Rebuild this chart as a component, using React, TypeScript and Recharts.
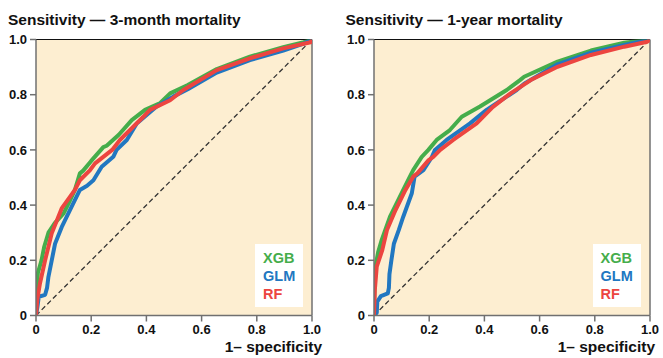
import React from "react";
import {
  CartesianGrid,
  Line,
  LineChart,
  ReferenceLine,
  XAxis,
  YAxis,
} from "recharts";

// ROC points as [1 - specificity, sensitivity]
const XGB_3M = [
  [0, 0], [0.003, 0.1], [0.007, 0.155], [0.02, 0.2], [0.03, 0.25], [0.045, 0.3],
  [0.068, 0.335], [0.1, 0.37], [0.12, 0.41], [0.141, 0.455], [0.159, 0.515],
  [0.171, 0.525], [0.2, 0.56], [0.244, 0.61], [0.256, 0.615], [0.3, 0.655],
  [0.347, 0.708], [0.395, 0.745], [0.45, 0.77], [0.486, 0.805], [0.55, 0.835],
  [0.655, 0.893], [0.775, 0.938], [0.896, 0.972], [0.97, 0.99], [1, 1],
];
const GLM_3M = [
  [0, 0], [0.005, 0.03], [0.01, 0.068], [0.033, 0.075], [0.04, 0.1], [0.045, 0.14],
  [0.057, 0.2], [0.069, 0.26], [0.093, 0.32], [0.123, 0.382], [0.159, 0.455],
  [0.185, 0.47], [0.208, 0.49], [0.238, 0.539], [0.28, 0.575], [0.292, 0.6],
  [0.329, 0.636], [0.365, 0.696], [0.437, 0.757], [0.497, 0.793], [0.55, 0.82],
  [0.655, 0.88], [0.775, 0.925], [0.896, 0.96], [0.97, 0.985], [1, 1],
];
const RF_3M = [
  [0, 0], [0.005, 0.06], [0.0145, 0.117], [0.033, 0.2], [0.057, 0.298],
  [0.093, 0.388], [0.141, 0.455], [0.159, 0.49], [0.196, 0.527], [0.214, 0.551],
  [0.276, 0.6], [0.304, 0.636], [0.389, 0.72], [0.413, 0.745], [0.486, 0.78],
  [0.534, 0.817], [0.655, 0.889], [0.775, 0.932], [0.896, 0.968], [0.995, 0.99],
  [1, 1],
];

const XGB_1Y = [
  [0, 0], [0.003, 0.165], [0.015, 0.23], [0.028, 0.274], [0.058, 0.358],
  [0.106, 0.455], [0.13, 0.503], [0.142, 0.527], [0.173, 0.575], [0.197, 0.6],
  [0.227, 0.636], [0.275, 0.672], [0.318, 0.72], [0.384, 0.757], [0.481, 0.817],
  [0.529, 0.853], [0.544, 0.865], [0.665, 0.92], [0.786, 0.96], [0.907, 0.988],
  [1, 1],
];
const GLM_1Y = [
  [0, 0], [0.01, 0.01], [0.012, 0.05], [0.025, 0.07], [0.05, 0.08], [0.054, 0.1],
  [0.056, 0.15], [0.063, 0.2], [0.072, 0.26], [0.09, 0.31], [0.106, 0.358],
  [0.137, 0.443], [0.147, 0.503], [0.179, 0.527], [0.21, 0.575], [0.221, 0.6],
  [0.263, 0.636], [0.348, 0.696], [0.408, 0.745], [0.517, 0.817], [0.544, 0.84],
  [0.665, 0.91], [0.786, 0.952], [0.907, 0.98], [1, 1],
];
const RF_1Y = [
  [0, 0], [0.003, 0.092], [0.01, 0.177], [0.03, 0.237], [0.047, 0.31],
  [0.078, 0.382], [0.114, 0.455], [0.142, 0.503], [0.157, 0.515], [0.198, 0.563],
  [0.215, 0.575], [0.24, 0.6], [0.287, 0.636], [0.372, 0.696], [0.43, 0.755],
  [0.495, 0.805], [0.568, 0.853], [0.665, 0.901], [0.786, 0.944], [0.907, 0.974],
  [0.99, 0.992], [1, 1],
];

const MODELS = ["XGB", "GLM", "RF"];
const COLORS = ["#45ad4b", "#2177c1", "#ec4540"];
const TICKS = [0, 0.2, 0.4, 0.6, 0.8, 1];

const FONT = '"Liberation Sans", Arial, sans-serif';
const BG = "#fdeed1";
const AXIS = "#707070";

const fmt = (v: number) => (v === 0 ? "0" : v.toFixed(1));
const toPts = (arr: number[][]) => arr.map(([x, y]) => ({ x, y }));

function RocPanel({
  title,
  curves,
  left,
  labelRight,
}: {
  title: string;
  curves: number[][][];
  left: number;
  labelRight: number;
}) {
  const tick = { fontSize: 13, fontWeight: 700, fill: "#111", fontFamily: FONT };
  return (
    <div style={{ position: "absolute", left, top: 0, width: 330, height: 358 }}>
      <LineChart
        width={330}
        height={358}
        margin={{ top: 39.5, right: 18, bottom: 12.5, left: 6 }}
      >
        <CartesianGrid fill={BG} horizontal={false} vertical={false} />
        <XAxis
          type="number"
          dataKey="x"
          domain={[0, 1]}
          ticks={TICKS}
          tickFormatter={fmt}
          height={30}
          stroke={AXIS}
          strokeWidth={1.5}
          tickSize={6}
          tickMargin={3}
          tick={tick}
          allowDataOverflow
        />
        <YAxis
          type="number"
          domain={[0, 1]}
          ticks={TICKS}
          tickFormatter={fmt}
          width={30}
          stroke={AXIS}
          strokeWidth={1.5}
          tickSize={6}
          tickMargin={3}
          tick={tick}
          allowDataOverflow
        />
        <ReferenceLine
          segment={[{ x: 0, y: 0 }, { x: 1, y: 1 }]}
          stroke="#333"
          strokeWidth={1.3}
          strokeDasharray="5 3"
        />
        <ReferenceLine y={1} stroke="#111" strokeWidth={1.2} />
        <ReferenceLine x={1} stroke={AXIS} strokeWidth={1.5} />
        {MODELS.map((m, i) => (
          <Line
            key={m}
            data={toPts(curves[i])}
            dataKey="y"
            type="linear"
            stroke={COLORS[i]}
            strokeWidth={4}
            strokeLinejoin="round"
            dot={false}
            activeDot={false}
            isAnimationActive={false}
          />
        ))}
      </LineChart>

      <div
        style={{
          position: "absolute",
          left: 8,
          top: 11.6,
          fontFamily: FONT,
          fontSize: 15.5,
          fontWeight: 700,
          lineHeight: "16px",
          color: "#111",
          whiteSpace: "nowrap",
        }}
      >
        {title}
      </div>

      <div
        style={{
          position: "absolute",
          right: labelRight,
          top: 339.3,
          fontFamily: FONT,
          fontSize: 15.5,
          fontWeight: 700,
          lineHeight: "16px",
          color: "#111",
          whiteSpace: "nowrap",
        }}
      >
        1– specificity
      </div>

      {/* legend box inside the plot */}
      <div
        style={{
          position: "absolute",
          left: 255,
          top: 244,
          width: 48,
          height: 63,
          boxSizing: "border-box",
          paddingLeft: 8,
          paddingTop: 6.3,
          background: "#fff",
          fontFamily: FONT,
          fontSize: 14.5,
          fontWeight: 700,
          lineHeight: "17.7px",
        }}
      >
        {MODELS.map((m, i) => (
          <div key={m} style={{ color: COLORS[i] }}>
            {m}
          </div>
        ))}
      </div>
    </div>
  );
}

export default function App() {
  return (
    <div
      style={{
        position: "fixed",
        left: 0,
        top: 0,
        width: 663,
        height: 358,
        background: "#fff",
      }}
    >
      <RocPanel
        title="Sensitivity — 3-month mortality"
        curves={[XGB_3M, GLM_3M, RF_3M]}
        left={0}
        labelRight={8}
      />
      <RocPanel
        title="Sensitivity — 1-year mortality"
        curves={[XGB_1Y, GLM_1Y, RF_1Y]}
        left={337.5}
        labelRight={12.5}
      />
    </div>
  );
}
